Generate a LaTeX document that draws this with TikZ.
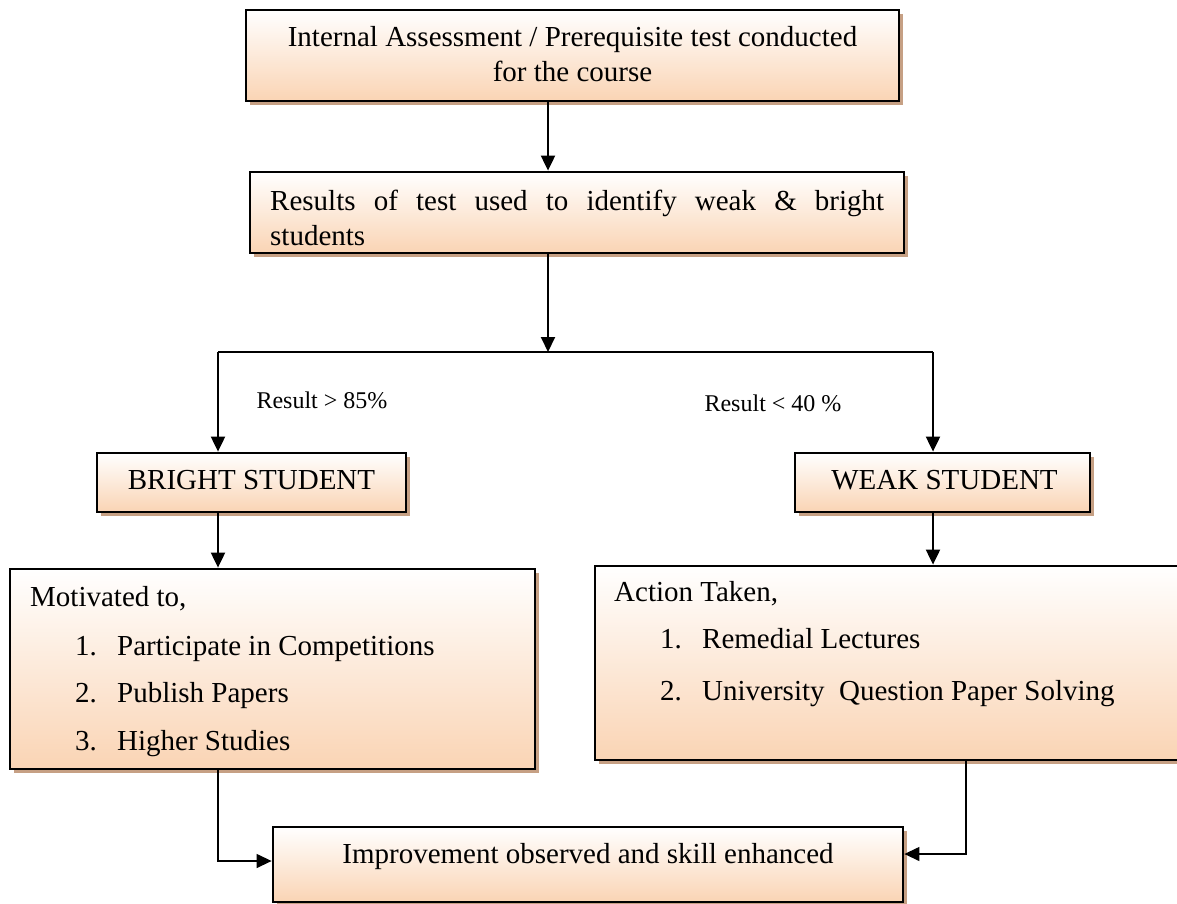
\documentclass[tikz,border=0pt]{standalone}
\usepackage{fontspec}
\setmainfont{Liberation Serif}
\usetikzlibrary{arrows.meta,shadows,calc}
\definecolor{peach}{RGB}{250,212,180}
\definecolor{shadowc}{RGB}{198,160,132}
\begin{document}
\begin{tikzpicture}[x=1pt,y=-1pt,
  box/.style={draw=black, line width=2.8pt, rectangle, inner sep=0pt,
    top color=white, bottom color=peach,
    drop shadow={shadow xshift=4pt, shadow yshift=-4pt, fill=shadowc, opacity=1}},
  txt/.style={inner sep=0pt, font=\fontsize{29}{35}\selectfont},
  lbl/.style={inner sep=0pt, font=\fontsize{24}{28}\selectfont},
  arr/.style={line width=2pt, -{Triangle[length=15pt,width=14pt]}},
  thinarr/.style={line width=1.3pt, -{Triangle[length=15pt,width=14pt]}},
]
\useasboundingbox (0,0) rectangle (1177,904);

% boxes
\node[box, minimum width=653pt, minimum height=91pt] (top) at (572.5,55.5) {};
\node[box, minimum width=654pt, minimum height=81pt] (res) at (577,212.5) {};
\node[box, minimum width=309pt, minimum height=59pt] (bright) at (251.5,482.5) {};
\node[box, minimum width=295pt, minimum height=59pt] (weak) at (942.5,482.5) {};
\node[box, minimum width=525pt, minimum height=200pt] (mot) at (272.5,669) {};
\node[box, minimum width=590pt, minimum height=194pt] (act) at (890,663) {};
\node[box, minimum width=630pt, minimum height=75pt] (imp) at (588,864.5) {};

% texts
\node[txt, anchor=base] (t1a) at (572.5,46.5) {Internal Assessment / Prerequisite test conducted};
\node[txt, anchor=base] (t1b) at (572.5,81.5) {for the course};
\node[txt, anchor=base west] (t2a) at (270,210) {\makebox[614pt][s]{Results of test used to identify weak \& bright}};
\node[txt, anchor=base west] (t2b) at (270,245) {students};
\node[txt, anchor=base] (tb) at (251.5,489.5) {BRIGHT STUDENT};
\node[txt, anchor=base] (tw) at (944.5,489.5) {WEAK STUDENT};
\node[lbl, anchor=base] (l1) at (322,408) {Result > 85\%};
\node[lbl, anchor=base] (l2) at (773,411.5) {Result < 40 \%};

\node[txt, anchor=base west] (m0) at (30,606.5) {Motivated to,};
\node[txt, anchor=base west] (m1n) at (75,655) {1.};
\node[txt, anchor=base west] (m1) at (117,655) {Participate in Competitions};
\node[txt, anchor=base west] (m2n) at (75,702) {2.};
\node[txt, anchor=base west] (m2) at (117,702) {Publish Papers};
\node[txt, anchor=base west] (m3n) at (75,750) {3.};
\node[txt, anchor=base west] (m3) at (117,750) {Higher Studies};

\node[txt, anchor=base west] (a0) at (614,601.5) {Action Taken,};
\node[txt, anchor=base west] (a1n) at (660,648) {1.};
\node[txt, anchor=base west] (a1) at (702,648) {Remedial Lectures};
\node[txt, anchor=base west] (a2n) at (660,700) {2.};
\node[txt, anchor=base west] (a2) at (702,700) {University\ \ Question Paper Solving};

\node[txt, anchor=base] (ti) at (588,863) {Improvement observed and skill enhanced};

% connectors
\coordinate (split) at (548,352);
\coordinate (lj) at (218,352);
\coordinate (rj) at (933,352);
\coordinate (lb) at (218,861);
\coordinate (rb) at (966,854);

\draw[arr] (top.south -| split) -- (res.north -| split);
\draw[arr] (res.south -| split) -- (split);
\draw[line width=1.5pt] (lj) -- (rj);
\draw[arr] (lj) -- (lj |- bright.north);
\draw[arr] (rj) -- (rj |- weak.north);
\draw[arr] (lj |- bright.south) -- (lj |- mot.north);
\draw[arr] (rj |- weak.south) -- (rj |- act.north);
\draw[thinarr] (lj |- mot.south) -- (lb) -- (lb -| imp.west);
\draw[thinarr] (rb |- act.south) -- (rb) -- (rb -| imp.east);
\end{tikzpicture}
\end{document}
